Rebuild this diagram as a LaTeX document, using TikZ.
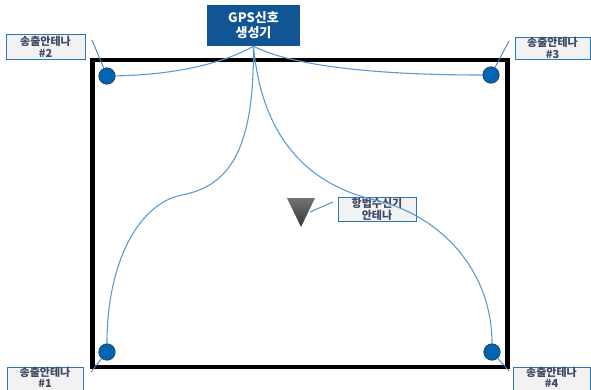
\documentclass[tikz,border=0pt]{standalone}
\usepackage{fontspec}
\setmainfont{Noto Sans CJK KR}
\definecolor{wireblue}{HTML}{5B9BD5}
\definecolor{leadblue}{HTML}{4F81BD}
\definecolor{tagedge}{HTML}{2E75B6}
\definecolor{tagfill}{HTML}{F2F2F2}
\definecolor{tagtext}{HTML}{3E4864}
\definecolor{gpsblue}{HTML}{125594}
\definecolor{dotfill}{HTML}{0066B3}
\definecolor{dotedge}{HTML}{1F4E79}
\begin{document}
\begin{tikzpicture}[x=1pt,y=-1pt,
  wire/.style={draw=wireblue, line width=1.1pt},
  lead/.style={draw=leadblue, line width=0.9pt},
  tag/.style={draw=tagedge, line width=0.9pt, fill=tagfill, inner sep=0pt,
    align=center, text=tagtext, font=\fontsize{11}{12}\selectfont\bfseries},
  tagtextonly/.style={inner sep=0pt, align=center, text=tagtext,
    font=\fontsize{11}{11}\selectfont\bfseries},
  dot/.style={circle, draw=dotedge, fill=dotfill, line width=1.2pt,
    minimum size=16pt, inner sep=0pt}]
\useasboundingbox (0,0) rectangle (591,389);
\clip (0,0) rectangle (591,389);

% test field boundary
\node[draw, line width=4.5pt, minimum width=415pt, minimum height=307pt,
  inner sep=0pt] (field) at (300,213.5) {};

% signal generator
\node[fill=gpsblue, text=white, minimum width=93pt, minimum height=41pt,
  inner sep=0pt, align=center, font=\fontsize{13}{15}\selectfont\bfseries]
  (gps) at (253.5,25.5) {GPS신호\\생성기};

% transmitting antennas
\node[dot] (c1) at (107,352) {};
\node[dot] (c2) at (107,76) {};
\node[dot] (c3) at (491,75) {};
\node[dot] (c4) at (492,352) {};

% antenna labels
\node[tag, minimum width=79pt, minimum height=25pt] (l2) at (45.5,46.5) {송출안테나\\\#2};
\node[tag, minimum width=75pt, minimum height=22pt] (l3) at (552.5,48) {송출안테나\\\#3};
\node[tag, minimum width=76pt, minimum height=25pt] (l1) at (45,379.5) {};
\node[tag, minimum width=77pt, minimum height=25pt] (l4) at (551.5,379.5) {};
\node[tagtextonly] (t1) at (45,377.5) {송출안테나\\\#1};
\node[tagtextonly] (t4) at (551.5,377.5) {송출안테나\\\#4};
\node[tag, minimum width=78pt, minimum height=24pt] (lant) at (377,209) {항법수신기\\안테나};

% receiver antenna symbol
\shade[top color=black!55, bottom color=black!78] (287,198) -- (315,198) -- (301,227) -- cycle;
\coordinate (rx) at (310,212);

% signal paths
\coordinate (k1) at (182,195);
\coordinate (k4) at (375,200);
\draw[wire] (gps.south) .. controls (220,65) and (170,75) .. (c2);
\draw[wire] (gps.south) .. controls (290,65) and (370,75) .. (c3);
\draw[wire] (gps.south) .. controls (254,140) and (235,185) .. (k1)
  .. controls (140,203) and (107,260) .. (c1);
\draw[wire] (gps.south) .. controls (262,140) and (310,185) .. (k4)
  .. controls (440,215) and (492,270) .. (c4);

% label leaders
\coordinate (p1) at (91,372);
\coordinate (p2) at (92,40);
\coordinate (p3) at (509,41);
\coordinate (p4) at (509,371);
\coordinate (pant) at (333,202);
\draw[lead] (p1) -- (c1);
\draw[lead] (p2) -- (c2);
\draw[lead] (p3) -- (c3);
\draw[lead] (p4) -- (c4);
\draw[lead] (pant) -- (rx);
\end{tikzpicture}
\end{document}
